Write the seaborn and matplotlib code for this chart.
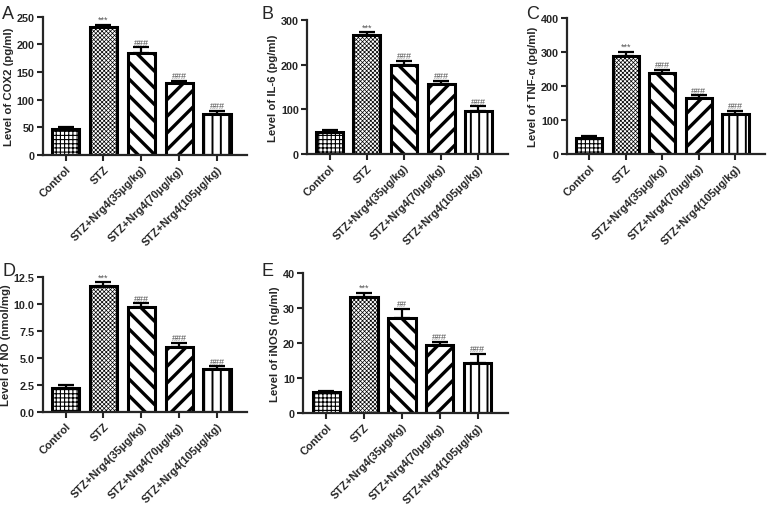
# Nrg4 / STZ inflammation markers - 5 bar panels (A-E)

import numpy as np
import pandas as pd
import matplotlib
matplotlib.use("Agg")
import matplotlib.pyplot as plt
import seaborn as sns

# ---- data ----
groups = ["Control", "STZ", "STZ+Nrg4(35μg/kg)", "STZ+Nrg4(70μg/kg)", "STZ+Nrg4(105μg/kg)"]

cox2_mean = [48, 231, 185, 130, 75]
cox2_err = [3, 5, 10, 4, 5]

il6_mean = [50, 267, 199, 156, 97]
il6_err = [4, 6, 10, 8, 10]

tnf_mean = [48, 287, 237, 165, 117]
tnf_err = [4, 14, 10, 8, 10]

no_mean = [2.25, 11.7, 9.75, 6.0, 3.95]
no_err = [0.25, 0.3, 0.3, 0.4, 0.3]

inos_mean = [5.9, 33.2, 27.1, 19.4, 14.3]
inos_err = [0.5, 1.2, 2.6, 1.0, 2.6]

sig_marks = ["", "***", "###", "###", "###"]
sig_marks_e = ["", "***", "##", "###", "###"]

hatches = ["++++", "xxxxxxxx", "\\\\", "//", "||"]
hatch_lw = [0.8, 0.5, 2.4, 2.4, 1.4]

sns.set_theme(style="ticks")
plt.rcParams["font.family"] = ["Liberation Sans", "DejaVu Sans"]
plt.rcParams["hatch.color"] = "black"

fig = plt.figure(figsize=(7.78, 5.10), dpi=100)

panels = [
    # letter, ylabel, mean, err, marks, ylim, yticks, fmt, axes rect, letter xy
    ("A", "Level of COX2 (pg/ml)", cox2_mean, cox2_err, sig_marks, 250, [0, 50, 100, 150, 200, 250], "{:.0f}",
     [0.055, 0.694, 0.263, 0.271], (0.003, 0.972)),
    ("B", "Level of IL-6 (pg/ml)", il6_mean, il6_err, sig_marks, 300, [0, 100, 200, 300], "{:.0f}",
     [0.395, 0.696, 0.258, 0.263], (0.336, 0.972)),
    ("C", "Level of TNF-α (pg/ml)", tnf_mean, tnf_err, sig_marks, 400, [0, 100, 200, 300, 400], "{:.0f}",
     [0.729, 0.696, 0.254, 0.267], (0.676, 0.972)),
    ("D", "Level of NO (nmol/mg)", no_mean, no_err, sig_marks, 12.5, [0, 2.5, 5.0, 7.5, 10.0, 12.5], "{:.1f}",
     [0.055, 0.190, 0.263, 0.265], (0.003, 0.468)),
    ("E", "Level of iNOS (ng/ml)", inos_mean, inos_err, sig_marks_e, 40, [0, 10, 20, 30, 40], "{:.0f}",
     [0.390, 0.188, 0.263, 0.275], (0.336, 0.468)),
]

for letter, ylabel, mean, err, marks, ymax, yticks, fmt, rect, lxy in panels:
    ax = fig.add_axes(rect)
    df = pd.DataFrame({"group": groups, "value": mean})
    sns.barplot(data=df, x="group", y="value", color="white", edgecolor="black",
                linewidth=2.2, width=0.72, errorbar=None, ax=ax)

    for i, bar in enumerate(ax.patches):
        bar.set_hatch(hatches[i])
        if hasattr(bar, "set_hatch_linewidth"):
            bar.set_hatch_linewidth(hatch_lw[i])
        bar.set_zorder(2)

    # upper error bars only (GraphPad style)
    x = np.arange(len(groups))
    ax.errorbar(x, mean, yerr=[np.zeros(len(err)), err], fmt="none",
                ecolor="black", elinewidth=1.6, capsize=6, capthick=1.6, zorder=1)
    for i, m in enumerate(marks):
        if m:
            ax.text(i, mean[i] + err[i] + ymax * 0.004, m, ha="center", va="bottom",
                    fontsize=6.5, color="#555555")

    ax.set_ylim(0, ymax)
    ax.set_yticks(yticks)
    ax.set_yticklabels([fmt.format(t) for t in yticks], fontweight="bold", fontsize=7.8)
    ax.set_xlim(-0.6, 4.8)
    ax.set_xticks(x)
    ax.set_xticklabels(groups, rotation=45, ha="right", rotation_mode="anchor",
                       fontweight="bold", fontsize=7.9)
    ax.set_xlabel("")
    ax.set_ylabel(ylabel, fontweight="bold", fontsize=8.2, labelpad=2)
    ax.tick_params(axis="both", width=1.5, length=4, pad=2)
    for side in ["left", "bottom"]:
        ax.spines[side].set_linewidth(1.6)
    sns.despine(ax=ax)
    fig.text(lxy[0], lxy[1], letter, fontsize=13, ha="left", va="center")

fig.savefig("out.png", dpi=100)
